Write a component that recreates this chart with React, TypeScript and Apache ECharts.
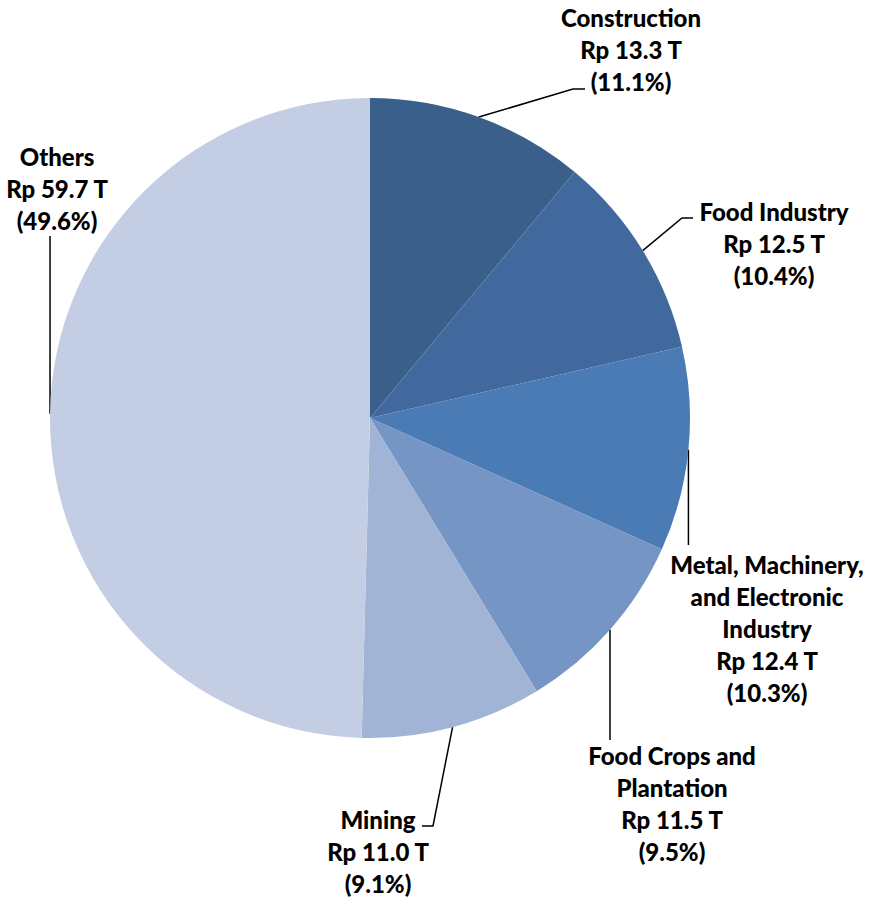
import React, { useEffect, useRef } from "react";
import * as echarts from "echarts";

// ---- data ----
const categories = [
  "Construction",
  "Food Industry",
  "Metal, Machinery,\nand Electronic\nIndustry",
  "Food Crops and\nPlantation",
  "Mining",
  "Others",
];
const values = [13.3, 12.5, 12.4, 11.5, 11.0, 59.7]; // Rp trillion
const percents = [11.1, 10.4, 10.3, 9.5, 9.1, 49.6];

// ---- styles / layout ----
const colors = ["#3A5F8B", "#41699E", "#4A7BB5", "#7595C5", "#A1B4D5", "#C3CDE3"];
const labelCenters: [number, number][] = [
  [631, 49],
  [774, 243],
  [767, 628],
  [672, 803],
  [378, 851],
  [57, 188],
];
// leader line shape after the anchor on the slice edge
const leaderEnds: any[] = [
  { pts: [[573, 89], [585, 89]] },
  { pts: [[682, 218], [693, 218]] },
  { vy: 545 },
  { vy: 740 },
  { pts: [[433, 826], [422, 826]] },
  { vy: 236 },
];

export default function App() {
  const ref = useRef<HTMLDivElement>(null);
  useEffect(() => {
    document.body.style.margin = "0";
    if (!ref.current) return;
    const chart = echarts.init(ref.current, undefined, { renderer: "svg" });
    chart.setOption({
      animation: false,
      backgroundColor: "#ffffff",
      series: [
        {
          type: "pie",
          center: [370, 418],
          radius: 320,
          startAngle: 90,
          clockwise: true,
          avoidLabelOverlap: false,
          silent: true,
          data: categories.map((c, i) => ({
            name: c,
            value: values[i],
            itemStyle: { color: colors[i] },
          })),
          itemStyle: { borderWidth: 0 },
          label: {
            show: true,
            position: "outside",
            formatter: (p: any) =>
              `${categories[p.dataIndex]}\nRp ${values[p.dataIndex].toFixed(1)} T\n(${percents[
                p.dataIndex
              ].toFixed(1)}%)`,
            fontFamily: "Lato",
            fontWeight: 900,
            fontSize: 24,
            lineHeight: 32,
            color: "#000000",
            align: "center",
          },
          labelLine: {
            show: true,
            length: 10,
            length2: 10,
            lineStyle: { color: "#000000", width: 1.5 },
          },
          labelLayout: (params: any) => {
            const i = params.dataIndex;
            const a = params.labelLinePoints[0];
            const e = leaderEnds[i];
            const pts = e.vy != null ? [a, [a[0], e.vy]] : [a, ...e.pts];
            return {
              x: labelCenters[i][0],
              y: labelCenters[i][1],
              align: "center",
              verticalAlign: "middle",
              labelLinePoints: pts,
            };
          },
        },
      ],
    });
    return () => chart.dispose();
  }, []);
  return <div ref={ref} style={{ width: 875, height: 902 }} />;
}
